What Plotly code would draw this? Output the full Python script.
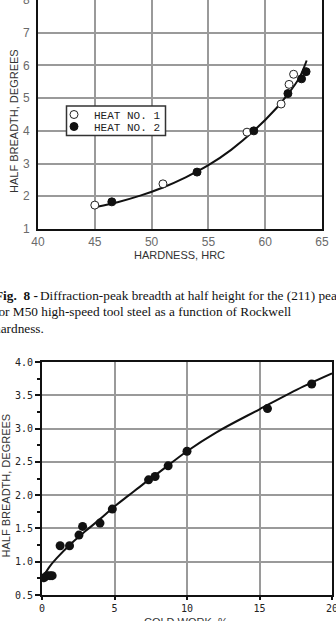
import plotly.graph_objects as go

W, H = 336, 621


def px_x(p):
    return p / W


def px_y(p):
    return 1 - p / H


# ---- Fig. 8 data: half breadth vs hardness ----
heat1_hrc = [45.0, 51.0, 58.4, 61.4, 62.1, 62.5]
heat1_hb = [1.73, 2.38, 3.96, 4.82, 5.42, 5.73]
heat2_hrc = [46.5, 54.0, 59.0, 62.0, 63.2, 63.6]
heat2_hb = [1.83, 2.74, 4.00, 5.14, 5.59, 5.81]
fit8_hrc = [45.2, 47, 49, 51, 53, 55, 57, 59, 61, 62, 63, 63.65]
fit8_hb = [1.68, 1.82, 2.02, 2.27, 2.58, 2.95, 3.42, 4.00, 4.70, 5.12, 5.62, 6.15]
hrc_ticks = [40, 45, 50, 55, 60, 65]
hb8_ticks = [1, 2, 3, 4, 5, 6, 7, 8]

# ---- Fig. 9 data: half breadth vs cold work ----
cw = [0.15, 0.35, 0.55, 0.7, 1.25, 1.9, 2.55, 2.8, 4.0, 4.85, 7.35, 7.8, 8.7, 10.0, 15.55, 18.6]
cw_hb = [0.76, 0.79, 0.79, 0.79, 1.24, 1.24, 1.40, 1.53, 1.58, 1.79, 2.23, 2.28, 2.44, 2.66, 3.30, 3.67]
fit9_cw = [0.1, 0.5, 1, 2, 3, 4, 5, 6, 7, 8, 10, 12, 15, 18, 20]
fit9_hb = [0.78, 0.92, 1.05, 1.27, 1.46, 1.64, 1.83, 2.00, 2.17, 2.33, 2.66, 2.94, 3.29, 3.63, 3.83]
cw_ticks = [0, 5, 10, 15, 20]
hb9_ticks = [0.5, 1.0, 1.5, 2.0, 2.5, 3.0, 3.5, 4.0]

fig = go.Figure()

fig.add_trace(go.Scatter(
    x=fit8_hrc, y=fit8_hb, mode="lines", line=dict(color="#111", width=2, shape="spline", smoothing=1),
    xaxis="x", yaxis="y", showlegend=False, hoverinfo="skip"))
fig.add_trace(go.Scatter(
    x=heat1_hrc, y=heat1_hb, mode="markers", name="HEAT NO. 1",
    marker=dict(symbol="circle", size=8, color="white", line=dict(color="#222", width=1)),
    xaxis="x", yaxis="y", legend="legend"))
fig.add_trace(go.Scatter(
    x=heat2_hrc, y=heat2_hb, mode="markers", name="HEAT NO. 2",
    marker=dict(symbol="circle", size=8, color="#111", line=dict(color="#111", width=1)),
    xaxis="x", yaxis="y", legend="legend2"))

fig.add_trace(go.Scatter(
    x=fit9_cw, y=fit9_hb, mode="lines", line=dict(color="#111", width=2, shape="spline", smoothing=1),
    xaxis="x2", yaxis="y2", showlegend=False, hoverinfo="skip"))
fig.add_trace(go.Scatter(
    x=cw, y=cw_hb, mode="markers", marker=dict(symbol="circle", size=9, color="#111"),
    xaxis="x2", yaxis="y2", showlegend=False))

sans = "Liberation Sans, Arial, sans-serif"
mono = "DejaVu Sans Mono, monospace"
serif = "Liberation Serif, Times New Roman, serif"

axis8 = dict(showline=True, linecolor="#111", linewidth=2, mirror=True,
             showgrid=True, gridcolor="#9a9a9a", gridwidth=1.5, zeroline=False,
             ticks="", ticklabeloverflow="allow",
             tickfont=dict(family=sans, size=12, color="#6a6a6a"))
axis9 = dict(showline=True, linecolor="#111", linewidth=2, mirror=True,
             showgrid=True, gridcolor="#9a9a9a", gridwidth=1.5, zeroline=False,
             ticks="outside", ticklen=4, tickwidth=1.5, tickcolor="#111",
             ticklabeloverflow="allow",
             tickfont=dict(family=mono, size=10, color="#222"))

legend_font = dict(family="Liberation Mono, Courier New, monospace", size=11, color="#222")

fig.update_layout(
    width=W, height=H, margin=dict(l=0, r=0, t=0, b=0, autoexpand=False),
    paper_bgcolor="white", plot_bgcolor="white",
    xaxis=dict(axis8, domain=[px_x(38), px_x(322)], range=[40, 65], tickvals=hrc_ticks,
               anchor="y", ticklabelstandoff=1),
    yaxis=dict(axis8, domain=[px_y(229), px_y(0)], range=[1, 8], tickvals=hb8_ticks,
               anchor="x", ticklabelstandoff=4),
    xaxis2=dict(axis9, domain=[px_x(42), px_x(332)], range=[0, 20], tickvals=cw_ticks,
                anchor="y2", ticklen=3),
    yaxis2=dict(axis9, domain=[px_y(595), px_y(362)], range=[0.5, 4.0], tickvals=hb9_ticks,
                tickformat=".1f", anchor="x2", ticklen=5,
                minor=dict(dtick=0.25, tick0=0.5, ticks="outside", ticklen=3, tickcolor="#111",
                           showgrid=False)),
    legend=dict(x=px_x(54), y=px_y(100), xanchor="left", yanchor="top",
                bgcolor="rgba(0,0,0,0)", borderwidth=0, font=legend_font),
    legend2=dict(x=px_x(54), y=px_y(112), xanchor="left", yanchor="top",
                 bgcolor="rgba(0,0,0,0)", borderwidth=0, font=legend_font),
    shapes=[dict(type="rect", xref="paper", yref="paper",
                 x0=px_x(66.5), x1=px_x(165.5), y0=px_y(135.5), y1=px_y(106),
                 fillcolor="white", line=dict(color="#333", width=1.5), layer="above")],
)

annots = [
    dict(text="HALF BREADTH, DEGREES", x=px_x(14.5), y=px_y(121.5), textangle=-90,
         font=dict(family=sans, size=11, color="#333")),
    dict(text="HARDNESS, HRC", x=px_x(179), y=px_y(255),
         font=dict(family=sans, size=11, color="#333")),
    dict(text="HALF BREADTH, DEGREES", x=px_x(5), y=px_y(485.5), textangle=-90,
         font=dict(family=sans, size=11, color="#333")),
    dict(text="COLD WORK, %", x=px_x(186), y=px_y(614), yanchor="top",
         font=dict(family=sans, size=11, color="#333")),
    dict(text="<b>Fig.\u00a0\u00a08\u00a0-</b>", x=px_x(39.5), y=px_y(295), xanchor="right",
         font=dict(family=serif, size=13.3, color="#111")),
    dict(text="Diffraction-peak breadth at half height for the (211) peak", x=px_x(38), y=px_y(295),
         xanchor="left", font=dict(family=serif, size=13.3, color="#111")),
    dict(text="for M50 high-speed tool steel as a function of Rockwell", x=px_x(-8), y=px_y(311.7),
         xanchor="left", font=dict(family=serif, size=13.3, color="#111")),
    dict(text="hardness.", x=px_x(-8), y=px_y(328.3),
         xanchor="left", font=dict(family=serif, size=13.3, color="#111")),
]
for a in annots:
    a.setdefault("xanchor", "center")
    a.setdefault("yanchor", "middle")
    fig.add_annotation(xref="paper", yref="paper", showarrow=False, **a)

fig.write_html("out.html")
